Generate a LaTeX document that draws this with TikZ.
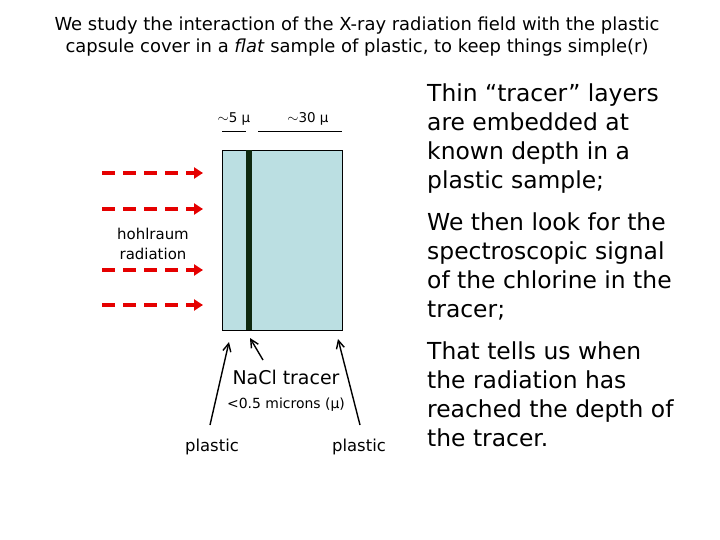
\documentclass[tikz,border=0pt]{standalone}
\usepackage{fontspec}
\setmainfont{DejaVu Sans}
\usetikzlibrary{arrows.meta}
\begin{document}
\begin{tikzpicture}[x=1bp,y=-1bp,
  ray/.style={red!90!black,line width=4bp,dash pattern=on 13bp off 8bp,-{Triangle[length=9bp,width=11bp]}},
  ptr/.style={black,line width=1.4bp,-{Straight Barb[length=8bp,width=8bp]}},
  side/.style={anchor=north west,align=left,font=\fontsize{23.5}{29}\selectfont,inner sep=0}]
\useasboundingbox (0,0) rectangle (720,540);
\node (title) at (357,37) [align=center,font=\fontsize{18}{22}\selectfont] {We study the interaction of the X-ray radiation field with the plastic\\capsule cover in a \textit{flat} sample of plastic, to keep things simple(r)};
\fill[fill={rgb,255:red,187;green,223;blue,226}] (222,150) rectangle (342,330);
\draw[black,line width=0.8bp] (222,150) rectangle (342,330);
\fill[fill={rgb,255:red,14;green,40;blue,14}] (246,150) rectangle (252,330);
\coordinate (tr) at (250,338);
\coordinate (pl) at (229,342);
\coordinate (pr) at (338,339);
\node (d5) at (234,119) [font=\fontsize{13.5}{14}\selectfont] {$\sim$5 µ};
\node (d30) at (308,119) [font=\fontsize{13.5}{14}\selectfont] {$\sim$30 µ};
\draw[line width=0.7bp] (222,131) -- (246,131) (258,131) -- (342,131);
\foreach \y/\n in {173/a,209/b,270/c,305/d}{
  \coordinate (s\n) at (102,\y); \coordinate (e\n) at (203,\y);
  \draw[ray] (s\n) -- (e\n);}
\node (hr) at (153,244) [align=center,font=\fontsize{15}{20}\selectfont] {hohlraum\\radiation};
\node (nacl) at (286,377) [font=\fontsize{19}{20}\selectfont] {NaCl tracer};
\node (mic) at (286,405) [font=\fontsize{14}{16}\selectfont] {<0.5 microns (µ)};
\node (plL) at (212,447) [font=\fontsize{16.5}{18}\selectfont] {plastic};
\node (plR) at (359,447) [font=\fontsize{16.5}{18}\selectfont] {plastic};
\draw[ptr] (210,425) -- (pl);
\draw[ptr] (263,360) -- (tr);
\draw[ptr] (360,425) -- (pr);
\node (t1) [side] at (427,84) {Thin “tracer” layers\\are embedded at\\known depth in a\\plastic sample;};
\node (t2) [side] at (427,213) {We then look for the\\spectroscopic signal\\of the chlorine in the\\tracer;};
\node (t3) [side] at (427,342) {That tells us when\\the radiation has\\reached the depth of\\the tracer.};
\end{tikzpicture}
\end{document}
